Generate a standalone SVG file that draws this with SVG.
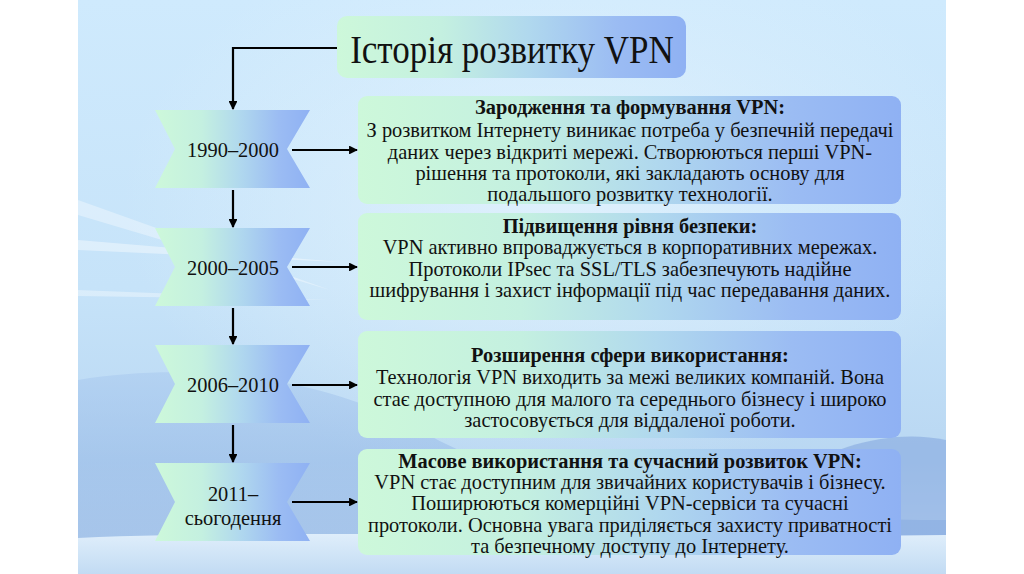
<svg xmlns="http://www.w3.org/2000/svg" width="1024" height="574" viewBox="0 0 1024 574">
  <defs>
    <linearGradient id="bg" x1="0" y1="0" x2="0" y2="1">
      <stop offset="0" stop-color="#cfeafd"/>
      <stop offset="0.5" stop-color="#c6e3f9"/>
      <stop offset="0.8" stop-color="#b9d7f2"/>
      <stop offset="1" stop-color="#d6e8f8"/>
    </linearGradient>
    <radialGradient id="glow" cx="0.55" cy="0.35" r="0.5">
      <stop offset="0" stop-color="#e4f3fd" stop-opacity="0.8"/>
      <stop offset="1" stop-color="#e4f3fd" stop-opacity="0"/>
    </radialGradient>
    <linearGradient id="fill" x1="0" y1="0" x2="1" y2="0">
      <stop offset="0" stop-color="#cdf8da"/>
      <stop offset="0.3" stop-color="#c4f0e0"/>
      <stop offset="0.55" stop-color="#b0d8ee"/>
      <stop offset="0.8" stop-color="#9bbcf3"/>
      <stop offset="1" stop-color="#8fb1f3"/>
    </linearGradient>
    <linearGradient id="dune" x1="0" y1="0" x2="0" y2="1">
      <stop offset="0" stop-color="#a9c9ef"/>
      <stop offset="1" stop-color="#7fa6dd"/>
    </linearGradient>
    <linearGradient id="sea" x1="0" y1="0" x2="0" y2="1">
      <stop offset="0" stop-color="#dfeefb"/>
      <stop offset="1" stop-color="#c2dbf3"/>
    </linearGradient>
    <marker id="ah" viewBox="0 0 10 10" refX="9" refY="5" markerWidth="4" markerHeight="4" orient="auto" markerUnits="strokeWidth">
      <path d="M0,0 L10,5 L0,10 Z" fill="#000"/>
    </marker>
  </defs>
  <style>
    .lbl{font-family:"Liberation Serif","Times New Roman",serif;fill:#111;}
    .box{fill:url(#fill);}
    .yr{font-size:20.4px;text-anchor:middle;}
    .bt{font-size:20.4px;text-anchor:middle;}
    .b{font-weight:bold;}
    .ttl{font-size:40px;text-anchor:middle;}
    .con{stroke:#000;stroke-width:2.2;fill:none;marker-end:url(#ah);}
  </style>

  <!-- background -->
  <rect x="0" y="0" width="1024" height="574" fill="#ffffff"/>
  <rect x="78" y="0" width="868" height="574" fill="url(#bg)"/>
  <g id="background-decor">
    <rect x="78" y="0" width="868" height="574" fill="url(#glow)"/>
    <path d="M78,200 L330,290 L78,215 Z" fill="#ffffff" opacity="0.35"/>
    <path d="M78,240 L340,262 L78,250 Z" fill="#ffffff" opacity="0.4"/>
    <path d="M78,290 L330,300 L78,296 Z" fill="#ffffff" opacity="0.35"/>
    <path d="M78,380 C200,360 330,380 420,430 C520,490 700,520 946,520 L946,574 L78,574 Z" fill="url(#dune)" opacity="0.55"/>
    <path d="M780,480 C840,440 900,430 946,440 L946,574 L720,574 Z" fill="#86a9e0" opacity="0.6"/>
    <path d="M78,538 C300,528 600,540 946,535 L946,574 L78,574 Z" fill="url(#sea)"/>
  </g>

  <!-- connectors -->
  <g id="connectors">
    <path class="con" d="M338,48 H233 V109"/>
    <path class="con" d="M233,190 V227"/>
    <path class="con" d="M233,308 V344"/>
    <path class="con" d="M233,425 V462"/>
    <path class="con" d="M292,150 H357"/>
    <path class="con" d="M292,267 H357"/>
    <path class="con" d="M292,385 H357"/>
    <path class="con" d="M292,502 H357"/>
  </g>

  <g id="title">
    <rect class="box" x="337" y="16" width="349" height="62" rx="10"/>
    <text class="lbl ttl" transform="translate(512,63) scale(0.875,1)" x="0" y="0">Історія розвитку VPN</text>
  </g>

  <g id="year-1990">
    <path class="box" d="M155,110 H310 L287,149 L310,188 H155 L175,149 Z"/>
    <text class="lbl yr" x="233" y="157">1990–2000</text>
  </g>
  <g id="year-2000">
    <path class="box" d="M155,228 H310 L287,267 L310,306 H155 L175,267 Z"/>
    <text class="lbl yr" x="233" y="275">2000–2005</text>
  </g>
  <g id="year-2006">
    <path class="box" d="M155,345 H310 L287,384 L310,423 H155 L175,384 Z"/>
    <text class="lbl yr" x="233" y="392">2006–2010</text>
  </g>
  <g id="year-2011">
    <path class="box" d="M155,463 H310 L287,502 L310,541 H155 L175,502 Z"/>
    <text class="lbl yr" x="233" y="501">2011–</text>
    <text class="lbl yr" x="233" y="525">сьогодення</text>
  </g>

  <g id="box-1">
    <rect class="box" x="358" y="96" width="543" height="108" rx="9"/>
    <text class="lbl bt b" x="630" y="114">Зародження та формування VPN:</text>
    <text class="lbl bt" x="630" y="137">З розвитком Інтернету виникає потреба у безпечній передачі</text>
    <text class="lbl bt" x="630" y="159">даних через відкриті мережі. Створюються перші VPN-</text>
    <text class="lbl bt" x="630" y="180">рішення та протоколи, які закладають основу для</text>
    <text class="lbl bt" x="630" y="201">подальшого розвитку технології.</text>
  </g>
  <g id="box-2">
    <rect class="box" x="358" y="213" width="543" height="107" rx="9"/>
    <text class="lbl bt b" x="630" y="233">Підвищення рівня безпеки:</text>
    <text class="lbl bt" x="630" y="254">VPN активно впроваджується в корпоративних мережах.</text>
    <text class="lbl bt" x="630" y="276">Протоколи IPsec та SSL/TLS забезпечують надійне</text>
    <text class="lbl bt" x="630" y="297">шифрування і захист інформації під час передавання даних.</text>
  </g>
  <g id="box-3">
    <rect class="box" x="358" y="331" width="543" height="107" rx="9"/>
    <text class="lbl bt b" x="630" y="362">Розширення сфери використання:</text>
    <text class="lbl bt" x="630" y="384"> Технологія VPN виходить за межі великих компаній. Вона</text>
    <text class="lbl bt" x="630" y="406">стає доступною для малого та середнього бізнесу і широко</text>
    <text class="lbl bt" x="630" y="427">застосовується для віддаленої роботи.</text>
  </g>
  <g id="box-4">
    <rect class="box" x="358" y="449" width="543" height="106" rx="9"/>
    <text class="lbl bt b" x="630" y="468">Масове використання та сучасний розвиток VPN:</text>
    <text class="lbl bt" x="630" y="489">VPN стає доступним для звичайних користувачів і бізнесу.</text>
    <text class="lbl bt" x="630" y="510">Поширюються комерційні VPN-сервіси та сучасні</text>
    <text class="lbl bt" x="630" y="532">протоколи. Основна увага приділяється захисту приватності</text>
    <text class="lbl bt" x="630" y="553">та безпечному доступу до Інтернету.</text>
  </g>
</svg>
